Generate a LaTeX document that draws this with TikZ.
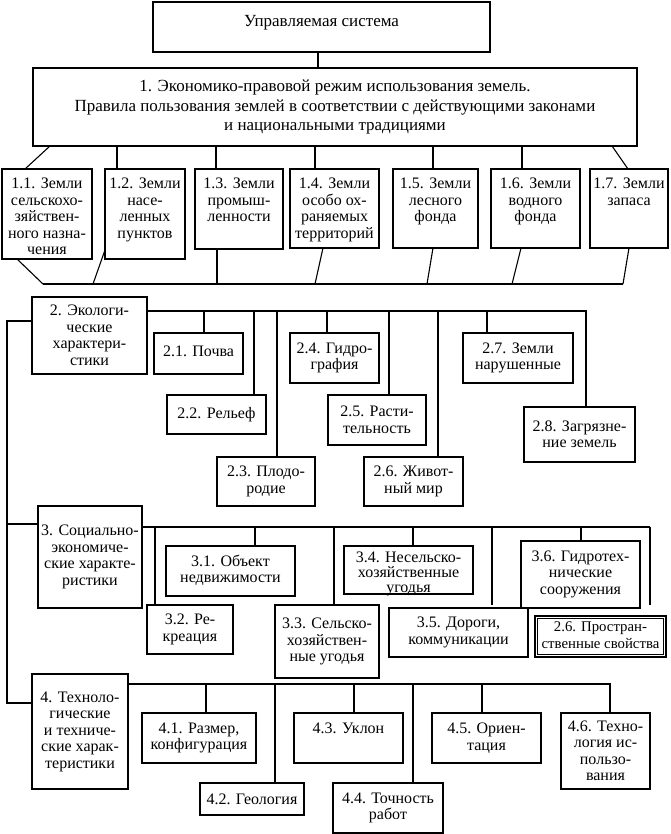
\documentclass[tikz,border=0pt]{standalone}
\usepackage{fontspec}
\setmainfont{Liberation Serif}
\usetikzlibrary{calc}
\tikzset{
  bx/.style={draw, line width=1.4pt, inner sep=0pt, outer sep=0pt, anchor=north west},
  tx/.style={inner sep=0pt, align=center, font=\fontsize{16}{16.5}\selectfont},
  ln/.style={line width=1.1pt},
}
\newcommand{\mkbox}[6]{%
  \node[bx, minimum width={#4-#2}, minimum height={#5-#3}] (#1) at (#2,#3) {};
  \node[tx] (#1t) at (#1.center) {#6};}
\newcommand{\mkboxtop}[7]{%
  \node[bx, minimum width={#4-#2}, minimum height={#5-#3}] (#1) at (#2,#3) {};
  \node[tx, anchor=north] (#1t) at ([yshift=-#6]#1.north) {\strut #7};}
\begin{document}
\begin{tikzpicture}[x=1pt, y=-1pt]
\useasboundingbox (0,0) rectangle (670,834);
% top
\node[bx, minimum width=337, minimum height=50] (top) at (153,2) {};
\node[tx, font=\fontsize{17}{19.5}\selectfont] (topt) at ([yshift=4pt]top.center) {Управляемая система};
\node[bx, minimum width=604, minimum height=78] (b1) at (33,68) {};
\node[tx, font=\fontsize{17}{19.5}\selectfont] (b1t) at (b1.center) {1. Экономико-правовой режим использования земель.\\Правила пользования землей в соответствии с действующими законами\\и национальными традициями};
\draw[ln] (top.south -| 318,0) -- (b1.north -| 318,0);
% level 1.x
\mkboxtop{n11}{2}{169}{92}{259}{8}{1.1. Земли\\сельскохо-\\зяйствен-\\ного назна-\\чения}
\mkboxtop{n12}{105}{169}{185}{259}{8}{1.2. Земли\\насе-\\ленных\\пунктов}
\mkboxtop{n13}{195}{169}{283}{249}{8}{1.3. Земли\\промыш-\\ленности}
\mkboxtop{n14}{290}{169}{379}{248}{8}{1.4. Земли\\особо ох-\\раняемых\\территорий}
\mkboxtop{n15}{393}{169}{478}{248}{8}{1.5. Земли\\лесного\\фонда}
\mkboxtop{n16}{491}{169}{580}{248}{8}{1.6. Земли\\водного\\фонда}
\mkboxtop{n17}{590}{169}{668}{248}{8}{1.7. Земли\\запаса}
\draw[ln] (b1.south -| 50,0) -- (n11.north -| 25,0);
\draw[ln] (b1.south -| 117,0) -- (n12.north -| 117,0);
\draw[ln] (b1.south -| 216,0) -- (n13.north -| 216,0);
\draw[ln] (b1.south -| 315,0) -- (n14.north -| 315,0);
\draw[ln] (b1.south -| 433,0) -- (n15.north -| 433,0);
\draw[ln] (b1.south -| 522,0) -- (n16.north -| 522,0);
\draw[ln] (b1.south -| 612,0) -- (n17.north -| 628,0);
% bus below level 1
\coordinate (busAL) at (43,284);
\coordinate (busAR) at (623,284);
\draw[ln] (busAL) -- (busAR);
\draw[ln] (n11.south -| 17,0) -- (busAL);
\draw[ln] (n12.west |- 0,250) -- (busAL -| 93,0);
\draw[ln] (n13.south -| 217,0) -- (busAL -| 217,0);
\draw[ln] (n14.south -| 323,0) -- (busAL -| 315,0);
\draw[ln] (n15.south -| 433,0) -- (busAL -| 427,0);
\draw[ln] (n16.south -| 521,0) -- (busAL -| 512,0);
\draw[ln] (n17.south -| 629,0) -- (busAR);
% section 2
\mkbox{b2}{32}{297}{147}{374}{2. Экологи-\\ческие\\характери-\\стики}
\mkbox{n21}{154}{333}{243}{374}{\raisebox{5pt}{2.1. Почва}}
\mkbox{n22}{167}{395}{266}{434}{\raisebox{4pt}{2.2. Рельеф}}
\mkbox{n23}{217}{457}{315}{506}{2.3. Плодо-\\родие}
\mkbox{n24}{290}{333}{379}{383}{2.4. Гидро-\\графия}
\mkbox{n25}{328}{395}{426}{445}{2.5. Расти-\\тельность}
\mkbox{n26}{364}{457}{463}{506}{2.6. Живот-\\ный мир}
\mkbox{n27}{463}{333}{573}{383}{2.7. Земли\\нарушенные}
\mkbox{n28}{524}{407}{635}{462}{2.8. Загрязне-\\ние земель}
\coordinate (busBR) at (586,311);
\draw[ln] (b2.east |- busBR) -- (busBR) -- (n28.north -| busBR);
\draw[ln] (204,311) -- (n21.north -| 204,0);
\draw[ln] (254,311) -- (n22.north -| 254,0);
\draw[ln] (277,311) -- (n23.north -| 277,0);
\draw[ln] (327,311) -- (n24.north -| 327,0);
\draw[ln] (389,311) -- (n25.north -| 389,0);
\draw[ln] (438,311) -- (n26.north -| 438,0);
\draw[ln] (487,311) -- (n27.north -| 487,0);
% section 3
\mkbox{b3}{38}{506}{142}{608}{3. Социально-\\экономиче-\\ские характе-\\ристики}
\mkbox{n31}{166}{546}{295}{596}{\raisebox{3pt}{\begin{tabular}{@{}c@{}}3.1. Объект\\недвижимости\end{tabular}}}
\mkbox{n32}{147}{605}{233}{654}{3.2. Ре-\\креация}
\mkbox{n33}{275}{605}{379}{678}{3.3. Сельско-\\хозяйствен-\\ные угодья}
\mkboxtop{n34}{344}{546}{473}{594}{5}{3.4. Несельско-\\[-1.5pt]хозяйственные\\[-1.5pt]угодья}
\mkbox{n35}{389}{608}{528}{657}{3.5. Дороги,\\коммуникации}
\mkbox{n36}{521}{541}{640}{608}{\raisebox{4pt}{\begin{tabular}{@{}c@{}}3.6. Гидротех-\\нические\\сооружения\end{tabular}}}
\node[bx, minimum width=131, minimum height=41] (n26p) at (535,616) {};
\draw[line width=0.7pt] ($(n26p.north west)+(2.5,2.5)$) rectangle ($(n26p.south east)+(-2.5,-2.5)$);
\node[tx, font=\fontsize{14.8}{17}\selectfont] (n26pt) at ([yshift=1pt]n26p.center) {2.6. Простран-\\ственные свойства};
\coordinate (busCR) at (650,527);
\draw[ln] (b3.east |- busCR) -- (busCR);
\draw[ln] (155,527) -- (n32.north -| 155,0);
\draw[ln] (255,527) -- (n31.north -| 255,0);
\draw[ln] (334,527) -- (n33.north -| 334,0);
\draw[ln] (413,527) -- (n34.north -| 413,0);
\draw[ln, shorten >=3pt] (492,527) -- (n35.north -| 492,0);
\draw[ln] (581,527) -- (n36.north -| 581,0);
\draw[ln, shorten >=11pt] (busCR) -- (n26p.north -| busCR);
% section 4
\mkbox{b4}{32}{674}{128}{789}{4. Техноло-\\гические\\и техниче-\\ские харак-\\теристики}
\mkbox{n41}{142}{713}{256}{763}{4.1. Размер,\\конфигурация}
\mkbox{n42}{200}{783}{304}{815}{4.2. Геология}
\mkboxtop{n43}{294}{713}{403}{763}{9}{4.3. Уклон}
\mkbox{n44}{333}{783}{443}{833}{4.4. Точность\\работ}
\mkbox{n45}{432}{713}{541}{763}{4.5. Ориен-\\тация}
\mkbox{n46}{561}{713}{650}{789}{4.6. Техно-\\логия ис-\\пользо-\\вания}
\coordinate (busDR) at (610,684);
\draw[ln] (b4.east |- busDR) -- (busDR) -- (n46.north -| busDR);
\draw[ln] (206,684) -- (n41.north -| 206,0);
\draw[ln] (275,684) -- (n42.north -| 275,0);
\draw[ln] (354,684) -- (n43.north -| 354,0);
\draw[ln] (413,684) -- (n44.north -| 413,0);
\draw[ln] (482,684) -- (n45.north -| 482,0);
% left spine
\coordinate (sp2) at (7,321);
\coordinate (sp3) at (7,524);
\coordinate (sp4) at (7,703);
\draw[ln] (b2.west |- sp2) -- (sp2) -- (sp4) -- (b4.west |- sp4);
\draw[ln] (sp3) -- (b3.west |- sp3);
\end{tikzpicture}
\end{document}
